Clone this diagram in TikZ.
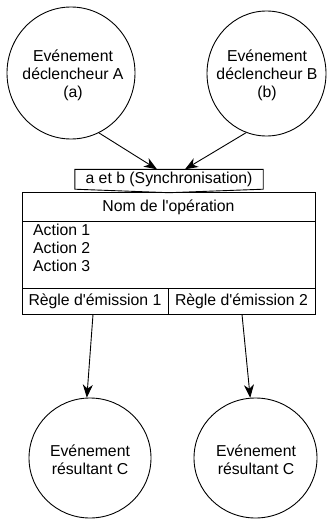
\documentclass[tikz,border=0pt]{standalone}
\usepackage{fontspec}
\setmainfont{Liberation Sans}[Ligatures=TeXOff]
\usetikzlibrary{shapes.geometric,arrows.meta,calc}
\begin{document}
\begin{tikzpicture}[x=1pt,y=-1pt,
  every node/.style={font=\fontsize{15.8}{18}\selectfont, inner sep=0pt},
  event/.style={draw, ellipse, line width=0.9pt},
  box/.style={draw, rectangle, line width=0.9pt},
  arr/.style={line width=0.9pt, -{Stealth[length=13pt,width=10pt,inset=4pt]}},
  ctext/.style={align=center}
]
\useasboundingbox (0,0) rectangle (329,519);
% trigger events
\node[event, minimum width=128pt, minimum height=132pt] (A) at (71,73) {};
\node[ctext] (At) at (73,75) {Evénement\\déclencheur A\\(a)};
\node[event, minimum width=119pt, minimum height=125pt] (B) at (266.5,73.5) {};
\node[ctext] (Bt) at (267,75) {Evénement\\déclencheur B\\(b)};
% synchronisation label
\node[minimum width=188pt, minimum height=19.5pt] (sync) at (169,179.25) {a et b (Synchronisation)};
\draw[line width=0.9pt] (sync.north west) -- (sync.north east) -- (sync.south east)
  -- ([yshift=-3.5pt]sync.south) -- (sync.south west) -- cycle;
% operation box
\node[box, minimum width=293pt, minimum height=28.3pt] (title) at (168.5,206.85) {Nom de l'opération};
\node[box, minimum width=293pt, minimum height=67pt] (actions) at (168.5,254.5) {};
\node[align=left, anchor=north west] (acttext) at (33,224) {Action 1\\Action 2\\Action 3};
\node[box, minimum width=146pt, minimum height=26pt] (r1) at (95,301) {Règle d'émission 1};
\node[box, minimum width=147pt, minimum height=26pt] (r2) at (241.5,301) {Règle d'émission 2};
% resulting events
\node[event, minimum width=122pt, minimum height=120pt] (C1) at (90,458) {};
\node[ctext] (C1t) at (90,460) {Evénement\\résultant C};
\node[event, minimum width=123pt, minimum height=120pt] (C2) at (255.5,458) {};
\node[ctext] (C2t) at (256,460) {Evénement\\résultant C};
% connectors
\draw[arr] (A.295) -- ([xshift=-12pt]sync.north);
\draw[arr] (B.251) -- ([xshift=16pt]sync.north);
\draw[arr] ([xshift=-2pt]r1.south) -- (C1.93);
\draw[arr] ([xshift=0.5pt]r2.south) -- (C2.95);
\end{tikzpicture}
\end{document}
